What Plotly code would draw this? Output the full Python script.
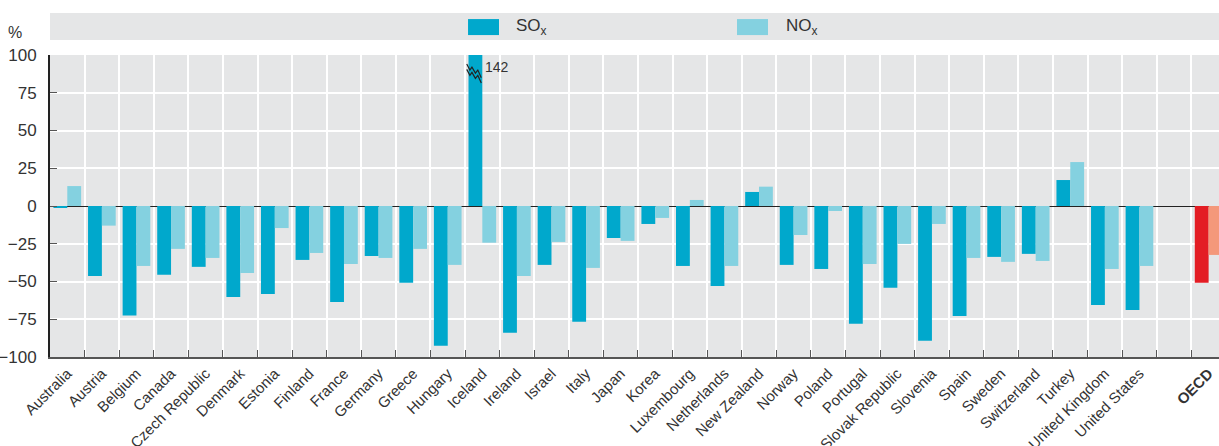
import plotly.graph_objects as go

COUNTRIES = [
    "Australia", "Austria", "Belgium", "Canada", "Czech Republic", "Denmark",
    "Estonia", "Finland", "France", "Germany", "Greece", "Hungary", "Iceland",
    "Ireland", "Israel", "Italy", "Japan", "Korea", "Luxembourg", "Netherlands",
    "New Zealand", "Norway", "Poland", "Portugal", "Slovak Republic", "Slovenia",
    "Spain", "Sweden", "Switzerland", "Turkey", "United Kingdom", "United States",
]
SOX = [
    -1.1, -46.3, -72.5, -45.6, -40.3, -60.2, -58.2, -35.7, -63.5, -33.1,
    -50.9, -92.6, 142.0, -84.0, -39.0, -76.7, -21.2, -11.9, -39.7, -52.9,
    9.3, -39.0, -41.7, -78.0, -54.2, -89.3, -72.8, -33.7, -31.7, 17.2,
    -65.5, -68.8,
]
NOX = [
    13.2, -13.0, -39.7, -28.4, -34.4, -44.3, -14.6, -31.1, -38.4, -34.4,
    -28.4, -39.0, -24.3, -46.3, -23.8, -41.0, -23.1, -7.9, 4.0, -39.7,
    12.8, -19.2, -3.3, -38.4, -25.1, -11.9, -34.4, -37.0, -36.4, 29.1,
    -41.7, -39.7,
]
OECD_SOX = -50.9
OECD_NOX = -32.4
Y_TICKS = [-100, -75, -50, -25, 0, 25, 50, 75, 100]

SOX_COL = "#00A8CC"
NOX_COL = "#84D1E0"
OECD_SOX_COL = "#E31D24"
OECD_NOX_COL = "#F4987A"
PANEL = "#E5E6E7"
FONT = "Liberation Sans Narrow, Arial Narrow, Liberation Sans, Arial"

n = len(COUNTRIES)
x_c = list(range(n))
x_oecd = n + 1

fig = go.Figure()
fig.add_trace(go.Bar(x=x_c, y=SOX, name="SOx", marker_color=SOX_COL, offsetgroup="s"))
fig.add_trace(go.Bar(x=x_c, y=NOX, name="NOx", marker_color=NOX_COL, offsetgroup="n"))
fig.add_trace(go.Bar(x=[x_oecd], y=[OECD_SOX], marker_color=OECD_SOX_COL, offsetgroup="s"))
fig.add_trace(go.Bar(x=[x_oecd], y=[OECD_NOX], marker_color=OECD_NOX_COL, offsetgroup="n"))
fig.update_traces(marker_line_width=0, hoverinfo="x+y")

tickvals = x_c + [n, x_oecd]
ticktext = COUNTRIES + ["", "<b>OECD</b>"]

fig.update_xaxes(
    range=[-0.5, x_oecd + 0.3],
    automargin=False,
    tickmode="array",
    tickvals=tickvals,
    ticktext=ticktext,
    tickangle=-45,
    ticks="",
    showgrid=False,
    zeroline=False,
    showline=True,
    linecolor="#555555",
    linewidth=2,
    tickfont=dict(family=FONT, size=15, color="#333333"),
    minor=dict(
        tickmode="array",
        tickvals=[i + 0.5 for i in range(x_oecd)],
        showgrid=True,
        gridcolor="white",
        gridwidth=2,
        ticks="inside",
        ticklen=7,
        tickcolor="#555555",
        tickwidth=1,
    ),
)
fig.update_yaxes(
    range=[-100, 100],
    automargin=False,
    tickvals=Y_TICKS,
    ticks="inside",
    ticklen=7,
    tickcolor="#555555",
    ticklabelstandoff=8,
    showgrid=True,
    gridcolor="white",
    gridwidth=2,
    zeroline=True,
    zerolinecolor="#222222",
    zerolinewidth=1,
    showline=True,
    linecolor="#222222",
    linewidth=2,
    tickfont=dict(family=FONT, size=17, color="#333333"),
)

# legend band and swatches (paper coordinates)
fig.add_shape(type="rect", xref="paper", yref="paper", x0=0, x1=1, y0=1.0497, y1=1.139,
              fillcolor=PANEL, line_width=0, layer="below")
for x0, col, label, tx in [(0.3576, SOX_COL, "SO<sub>x</sub>", 0.397),
                           (0.5877, NOX_COL, "NO<sub>x</sub>", 0.628)]:
    fig.add_shape(type="rect", xref="paper", yref="paper", x0=x0, x1=x0 + 0.0265,
                  y0=1.066, y1=1.119, fillcolor=col, line_width=0)
    fig.add_annotation(xref="paper", yref="paper", x=tx, y=1.093, text=label,
                       showarrow=False, xanchor="left", yanchor="middle",
                       font=dict(family=FONT, size=17, color="#333333"))

fig.add_annotation(xref="paper", yref="paper", x=-0.03, y=1.075, text="%",
                   showarrow=False, xanchor="center", yanchor="middle",
                   font=dict(family=FONT, size=16, color="#333333"))

# axis-break marker on Iceland's SOx bar
ice = COUNTRIES.index("Iceland")
ymax = Y_TICKS[-1]
zig_x = [ice - 0.45, ice - 0.36, ice - 0.3, ice - 0.2, ice - 0.13, ice - 0.03]
for dy in (0, -3.5):
    zig_y = [ymax - 6 + dy, ymax - 10 + dy, ymax - 8 + dy,
             ymax - 12 + dy, ymax - 10 + dy, ymax - 15 + dy]
    fig.add_trace(go.Scatter(x=zig_x, y=zig_y, mode="lines",
                             line=dict(color="#222222", width=1.2),
                             hoverinfo="skip", showlegend=False))
fig.add_annotation(x=ice, y=ymax - 8, text=f"{SOX[ice]:.0f}", showarrow=False,
                   xanchor="left", yanchor="middle", xshift=1,
                   font=dict(family=FONT, size=14, color="#333333"))

fig.update_layout(
    width=1219,
    height=446,
    barmode="group",
    bargap=0.2,
    bargroupgap=0,
    showlegend=False,
    plot_bgcolor=PANEL,
    paper_bgcolor="white",
    margin=dict(l=50, r=0, t=55, b=89),
    font=dict(family=FONT, color="#333333"),
)

fig.write_html("out.html", config={"displayModeBar": False},
               post_script="document.body.style.margin='0px';")
